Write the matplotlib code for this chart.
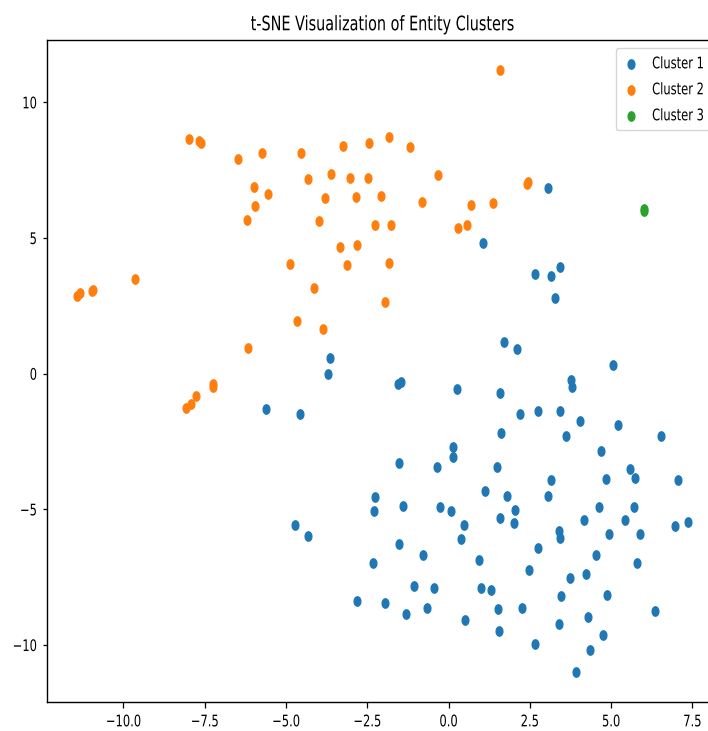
import numpy as np
import matplotlib
matplotlib.use('Agg')
import matplotlib.pyplot as plt
from matplotlib.path import Path
from matplotlib.patheffects import AbstractPathEffect
from matplotlib.transforms import Affine2D

# t-SNE coordinates
cluster1_x = [-3.64, -3.72, -5.61, -4.57,
              3.06, 1.06, 3.43, 2.66, 3.14, 3.28, 1.71, 2.12, 5.06, -1.56, -1.46, 0.26, 1.59, 3.78, 3.81,
              2.21, 2.74, 3.43, 4.03,
              -1.51, -0.36, -2.25, -2.30, -1.39, -0.25, -4.71, -4.33, -1.51, -0.79, -2.33, -1.06, -0.46,
              -2.82, -1.96, -0.66, -1.32,
              5.22, 6.53, 1.62, 3.62, 4.69, 0.15, 0.15, 1.49, 5.59, 5.73, 4.85, 7.06, 3.14, 1.11, 1.79,
              3.06, 0.09, 2.05, 1.59, 2.02, 4.63, 5.70, 4.16, 5.43, 7.38, 6.96, 0.47, 3.41, 3.44, 4.95,
              5.88, 0.38, 2.76, 4.53, 0.95, 5.79, 2.48, 4.23, 3.73, 1.00, 1.32, 3.46, 4.88, 1.53, 2.26,
              6.34, 0.52, 4.29, 3.39, 1.56, 4.76, 2.66, 4.34, 3.93]
cluster1_y = [0.56, -0.03, -1.31, -1.50,
              6.86, 4.81, 3.95, 3.68, 3.59, 2.78, 1.15, 0.91, 0.32, -0.39, -0.30, -0.57, -0.72, -0.23, -0.49,
              -1.49, -1.37, -1.38, -1.75,
              -3.30, -3.43, -4.56, -5.06, -4.88, -4.93, -5.57, -5.97, -6.29, -6.70, -6.97, -7.83, -7.91,
              -8.37, -8.45, -8.64, -8.87,
              -1.88, -2.30, -2.17, -2.30, -2.84, -2.70, -3.08, -3.43, -3.51, -3.84, -3.89, -3.93, -3.93, -4.34, -4.52,
              -4.52, -5.05, -5.02, -5.33, -5.52, -4.93, -4.93, -5.38, -5.38, -5.47, -5.61, -5.56, -5.80, -6.07, -5.92,
              -5.92, -6.10, -6.43, -6.68, -6.87, -6.97, -7.23, -7.37, -7.54, -7.91, -7.96, -8.18, -8.15, -8.67, -8.64,
              -8.74, -9.09, -8.96, -9.23, -9.50, -9.63, -9.95, -10.18, -10.98]

cluster2_x = [-7.98, -7.67, -7.60, -6.47, -5.75, -4.54, -3.26, -2.46, -4.33, -3.63, -3.03, -2.49,
              -5.98, -5.56, -5.95, -3.80, -2.86, -6.20, -3.98, -3.34, -2.81, -4.87, -3.13, -4.15,
              -9.66, -10.98, -10.95, -11.42, -11.34, -4.66, -3.86, -6.18, -7.24, -7.24, -7.78, -7.92, -8.08,
              1.57, -1.83, -1.19, -0.33, -2.08, -0.82, 0.68, 1.37, 2.40, 2.43, -2.26, -1.77, 0.28, 0.58,
              -1.83, -1.94]
cluster2_y = [8.66, 8.58, 8.51, 7.90, 8.12, 8.12, 8.39, 8.49, 7.16, 7.35, 7.20, 7.21,
              6.88, 6.61, 6.17, 6.49, 6.53, 5.68, 5.63, 4.68, 4.73, 4.04, 4.00, 3.17,
              3.49, 3.03, 3.10, 2.87, 2.96, 1.96, 1.65, 0.93, -0.39, -0.49, -0.83, -1.12, -1.26,
              11.19, 8.71, 8.35, 7.31, 6.54, 6.34, 6.22, 6.30, 7.00, 7.05, 5.48, 5.48, 5.36, 5.49,
              4.08, 2.65]

cluster3_x = [6.00, 6.02]
cluster3_y = [6.00, 6.08]

cluster_names = ['Cluster 1', 'Cluster 2', 'Cluster 3']
x_ticks = [-10.0, -7.5, -5.0, -2.5, 0.0, 2.5, 5.0, 7.5]
y_ticks = [-10, -5, 0, 5, 10]

SX = 0.72  # the reference was squashed sideways


class Squeeze(AbstractPathEffect):
  """Draw text rescaled from its layout, keeping one edge (or the centre) in place."""
  def __init__(self, sx=SX, sy=1.0, anchor='center'):
    super().__init__()
    self.sx = sx; self.sy = sy; self.anchor = anchor

  def draw_path(self, renderer, gc, tpath, affine, rgbFace=None):
    bb = tpath.get_extents(affine)
    if self.anchor == 'left': cx = bb.x0
    elif self.anchor == 'right': cx = bb.x1
    else: cx = 0.5*(bb.x0 + bb.x1)
    cy = 0.5*(bb.y0 + bb.y1)
    t = affine + Affine2D().translate(-cx, -cy).scale(self.sx, self.sy).translate(cx, cy)
    renderer.draw_path(gc, tpath, t, rgbFace)


theta = np.linspace(0, 2*np.pi, 65)
dot = Path(np.column_stack([SX*np.cos(theta), np.sin(theta)]), closed=True)

fig = plt.figure(figsize=(7.08, 7.31), dpi=100)
ax = fig.add_axes([0.066, 0.0401, 0.9496, 0.9052])

series = [(cluster1_x, cluster1_y), (cluster2_x, cluster2_y), (cluster3_x, cluster3_y)]
colors = ['#1f77b4', '#ff7f0e', '#2ca02c']
for (xs, ys), name, c in zip(series, cluster_names, colors):
  ax.scatter(xs, ys, s=45, marker=dot, color=c, label=name)

ax.set_xticks(x_ticks)
ax.set_yticks(y_ticks)
ax.tick_params(axis='x', length=4.6, width=0.9, pad=4.5, labelsize=11.5)
ax.tick_params(axis='y', length=2.6, width=0.9, pad=4.2, labelsize=11.5)
for sp in ax.spines.values():
  sp.set_linewidth(1.0)

ax.set_title('t-SNE Visualization of Entity Clusters', fontsize=14.4, pad=7,
             path_effects=[Squeeze()])
for lab in ax.get_xticklabels():
  lab.set_path_effects([Squeeze()])
for lab in ax.get_yticklabels():
  lab.set_path_effects([Squeeze(anchor='right')])

# legend laid out in a small font so it fits the (cropped) figure, drawn at full height
leg_fs = 8.5
grow = 11.5/leg_fs
leg = ax.legend(loc='upper left', bbox_to_anchor=(0.846, 0.9875), fontsize=leg_fs,
                handlelength=1.18, handletextpad=1.2, borderpad=0.72, labelspacing=1.1,
                borderaxespad=0.)
for t in leg.get_texts():
  t.set_path_effects([Squeeze(sx=SX*grow, sy=grow, anchor='left')])

fig.savefig('out.png', dpi=100)
